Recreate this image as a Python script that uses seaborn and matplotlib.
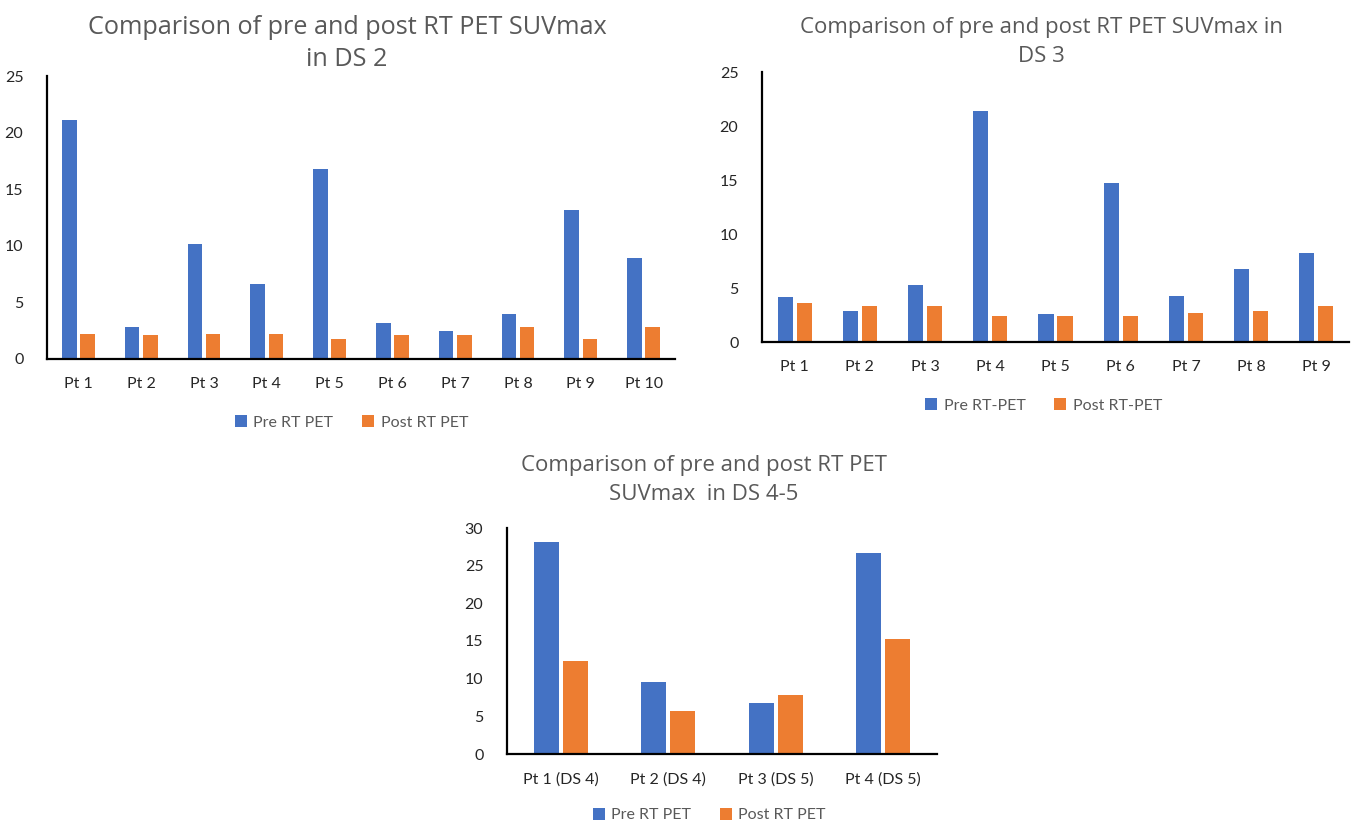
import matplotlib
matplotlib.use("Agg")
import matplotlib.pyplot as plt
import seaborn as sns
import pandas as pd

# SUVmax before and after radiotherapy, grouped by Deauville score
ds2_patients = ["Pt 1", "Pt 2", "Pt 3", "Pt 4", "Pt 5", "Pt 6", "Pt 7", "Pt 8", "Pt 9", "Pt 10"]
ds2_pre = [21.1, 2.8, 10.2, 6.6, 16.8, 3.2, 2.5, 4.0, 13.2, 8.9]
ds2_post = [2.2, 2.1, 2.2, 2.2, 1.8, 2.1, 2.1, 2.8, 1.8, 2.8]

ds3_patients = ["Pt 1", "Pt 2", "Pt 3", "Pt 4", "Pt 5", "Pt 6", "Pt 7", "Pt 8", "Pt 9"]
ds3_pre = [4.2, 2.9, 5.3, 21.4, 2.6, 14.7, 4.3, 6.8, 8.2]
ds3_post = [3.6, 3.3, 3.3, 2.4, 2.4, 2.4, 2.7, 2.9, 3.3]

ds45_patients = ["Pt 1 (DS 4)", "Pt 2 (DS 4)", "Pt 3 (DS 5)", "Pt 4 (DS 5)"]
ds45_pre = [28.2, 9.6, 6.8, 26.7]
ds45_post = [12.4, 5.7, 7.8, 15.2]

BLUE = "#4472C4"
ORANGE = "#ED7D31"
TITLE_GRAY = "#595959"
TICK_COLOR = "#262626"
TITLE_FONT = ["Open Sans", "DejaVu Sans"]

sns.set_style("white")
plt.rcParams["font.family"] = ["Lato", "DejaVu Sans"]

W, H = 1353, 825
fig = plt.figure(figsize=(W / 100, H / 100), dpi=100)


def px_axes(x0, x1, y_top, y_base):
    """Axes rectangle given in pixel coordinates (origin top-left)."""
    return fig.add_axes([x0 / W, 1 - y_base / H, (x1 - x0) / W, (y_base - y_top) / H])


def title(x, y, text, size):
    fig.text(x / W, 1 - y / H, text, ha="center", va="center", fontsize=size,
             color=TITLE_GRAY, family=TITLE_FONT)


def draw(ax, patients, pre, post, labels, ymax, width, gap, tick_size):
    df = pd.DataFrame({
        "patient": patients * 2,
        "suv": pre + post,
        "phase": [labels[0]] * len(pre) + [labels[1]] * len(post),
    })
    sns.barplot(data=df, x="patient", y="suv", hue="phase",
                palette=[BLUE, ORANGE], width=width, gap=gap,
                saturation=1, edgecolor="none", ax=ax)
    ax.set_ylim(0, ymax)
    ax.set_yticks(range(0, ymax + 1, 5))
    ax.set_xlim(-0.5, len(patients) - 0.5)
    ax.set_xlabel("")
    ax.set_ylabel("")
    for side in ("top", "right"):
        ax.spines[side].set_visible(False)
    for side in ("left", "bottom"):
        ax.spines[side].set_color("black")
        ax.spines[side].set_linewidth(1.6)
    ax.tick_params(axis="both", length=0, labelsize=tick_size, colors=TICK_COLOR)
    ax.tick_params(axis="y", pad=17)
    ax.tick_params(axis="x", pad=13)
    handles, lbls = ax.get_legend_handles_labels()
    ax.get_legend().remove()
    return handles, lbls


def legend(ax, handles, lbls, anchor):
    ax.legend(handles, lbls, loc="center", bbox_to_anchor=anchor, ncol=2, frameon=False,
              handlelength=0.75, handleheight=0.75, handletextpad=0.4, columnspacing=1.8,
              fontsize=11.5, labelcolor=TITLE_GRAY)


# DS 2
ax1 = px_axes(47, 675, 76, 359)
h, l = draw(ax1, ds2_patients, ds2_pre, ds2_post, ["Pre RT PET", "Post RT PET"],
            25, 0.58, 0.2, 11.5)
legend(ax1, h, l, (0.485, -0.225))
title(347, 27, "Comparison of pre and post RT PET SUVmax", 18.2)
title(347, 60, "in DS 2", 18.2)

# DS 3
ax2 = px_axes(762, 1349, 72, 342)
h, l = draw(ax2, ds3_patients, ds3_pre, ds3_post, ["Pre RT-PET", "Post RT-PET"],
            25, 0.58, 0.2, 11.5)
legend(ax2, h, l, (0.48, -0.235))
title(1041, 27, "Comparison of pre and post RT PET SUVmax in", 16)
title(1041, 57, "DS 3", 16)

# DS 4-5
ax3 = px_axes(507, 937, 528, 754)
h, l = draw(ax3, ds45_patients, ds45_pre, ds45_post, ["Pre RT PET", "Post RT PET"],
            30, 0.54, 0.15, 11.5)
legend(ax3, h, l, (0.47, -0.27))
title(704, 465, "Comparison of pre and post RT PET", 16)
title(704, 494, "SUVmax  in DS 4-5", 16)

fig.savefig("out.png", dpi=100, facecolor="white")
